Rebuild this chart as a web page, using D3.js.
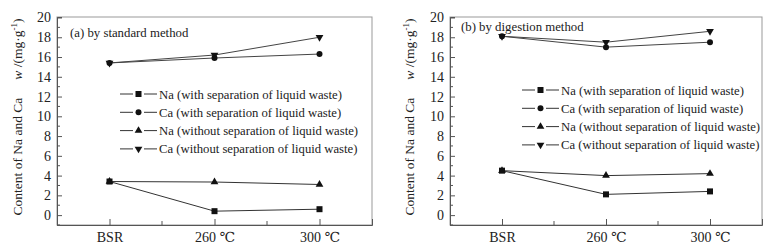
<!DOCTYPE html>
<html>
<head>
<meta charset="utf-8">
<script src="https://cdn.jsdelivr.net/npm/d3@7"></script>
<style>
  body { margin: 0; background: #fff; }
  svg, svg text { font-family: "Liberation Serif", "Times New Roman", "DejaVu Serif", serif !important; }
</style>
</head>
<body>
<div id="chart"></div>
<script>
// Categories and tick labels
const categories = ["BSR", "260 ℃", "300 ℃"];
const yTicks = [0, 2, 4, 6, 8, 10, 12, 14, 16, 18, 20];

// Series names (legend order)
const seriesNames = [
  "Na (with separation of liquid waste)",
  "Ca (with separation of liquid waste)",
  "Na (without separation of liquid waste)",
  "Ca (without separation of liquid waste)"
];
const seriesSymbols = ["square", "circle", "up", "down"];

// (a) by standard method
const standardNaWith = [3.4, 0.4, 0.6];
const standardCaWith = [15.4, 15.9, 16.3];
const standardNaWithout = [3.4, 3.35, 3.1];
const standardCaWithout = [15.4, 16.2, 18.0];

// (b) by digestion method
const digestionNaWith = [4.5, 2.1, 2.4];
const digestionCaWith = [18.1, 17.0, 17.5];
const digestionNaWithout = [4.5, 4.0, 4.2];
const digestionCaWithout = [18.1, 17.5, 18.6];

const width = 778, height = 250;
const fontFamily = '"Liberation Serif", "Times New Roman", serif';

const svg = d3.select("#chart").append("svg")
  .attr("width", width)
  .attr("height", height)
  .attr("font-family", fontFamily);

function drawMarker(g, type, x, y) {
  if (type === "square") {
    g.append("rect").attr("x", x - 3).attr("y", y - 3).attr("width", 6).attr("height", 6).attr("fill", "#111");
  } else if (type === "circle") {
    g.append("circle").attr("cx", x).attr("cy", y).attr("r", 3).attr("fill", "#111");
  } else {
    const sym = d3.symbol().type(d3.symbolTriangle).size(26);
    g.append("path").attr("d", sym())
      .attr("transform", `translate(${x},${y}) rotate(${type === "down" ? 180 : 0})`)
      .attr("fill", "#111");
  }
}

function drawPanel(opts) {
  const { left, right, top, bottom, title, titleX, titleY, series, legendX, legendY, labelX } = opts;
  const g = svg.append("g");

  const x = d3.scaleLinear().domain([-0.5, 2.5]).range([left, right]);
  const y = d3.scaleLinear().domain([-1, 20.05]).range([bottom, top]);

  // frame
  g.append("rect")
    .attr("x", left).attr("y", top)
    .attr("width", right - left).attr("height", bottom - top)
    .attr("fill", "none").attr("stroke", "#999").attr("stroke-width", 1);

  // y axis (ticks inward)
  const yAxis = d3.axisLeft(y).tickValues(yTicks).tickSize(-5).tickPadding(6);
  const ya = g.append("g").attr("transform", `translate(${left},0)`).call(yAxis)
    .attr("font-family", fontFamily);
  ya.select(".domain").attr("stroke", "#555");
  ya.selectAll(".tick line").attr("stroke", "#555");
  ya.selectAll("text").style("font-size", "14px").attr("fill", "#222");
  // minor y ticks
  g.selectAll(".ymin").data(d3.range(-1, 20, 2)).enter().append("line")
    .attr("x1", left).attr("x2", left + 3)
    .attr("y1", d => y(d)).attr("y2", d => y(d))
    .attr("stroke", "#555");

  // x axis
  const xAxis = d3.axisBottom(x).tickValues([0, 1, 2]).tickFormat(i => categories[i]).tickSize(-6).tickPadding(7);
  const xa = g.append("g").attr("transform", `translate(0,${bottom})`).call(xAxis)
    .attr("font-family", fontFamily);
  xa.select(".domain").attr("stroke", "#555");
  xa.selectAll(".tick line").attr("stroke", "#555");
  xa.selectAll("text").style("font-size", "14px").attr("fill", "#222");
  g.selectAll(".xmin").data([0.5, 1.5]).enter().append("line")
    .attr("x1", d => x(d)).attr("x2", d => x(d))
    .attr("y1", bottom).attr("y2", bottom - 4)
    .attr("stroke", "#555");

  // y label
  const lab = g.append("text")
    .attr("transform", `translate(${labelX},${(top + bottom) / 2 - 4}) rotate(-90)`)
    .attr("text-anchor", "middle")
    .attr("fill", "#222")
    .style("font-size", "13.5px");
  lab.append("tspan").text("Content of Na and Ca");
  lab.append("tspan").attr("dx", 18).style("font-style", "italic").text("w");
  lab.append("tspan").text(" /(mg·g");
  lab.append("tspan").attr("dy", -5).style("font-size", "9px").text("-1");
  lab.append("tspan").attr("dy", 5).text(")");

  // title
  g.append("text").attr("x", titleX).attr("y", titleY)
    .attr("fill", "#222")
    .style("font-size", "12.8px").text(title);

  // lines
  const line = d3.line().x((d, i) => x(i)).y(d => y(d));
  series.forEach((vals, k) => {
    g.append("path").datum(vals)
      .attr("d", line)
      .attr("fill", "none")
      .attr("stroke", k % 2 === 0 ? "#333" : "#444")
      .attr("stroke-width", 1);
  });
  series.forEach((vals, k) => {
    vals.forEach((v, i) => drawMarker(g, seriesSymbols[k], x(i), y(v)));
  });

  // legend
  seriesNames.forEach((name, k) => {
    const ly = legendY + k * 18.3;
    g.append("line").attr("x1", legendX).attr("x2", legendX + 37)
      .attr("y1", ly).attr("y2", ly).attr("stroke", "#333");
    g.append("rect").attr("x", legendX + 13).attr("y", ly - 5).attr("width", 11).attr("height", 10).attr("fill", "#fff");
    drawMarker(g, seriesSymbols[k], legendX + 18.5, ly);
    g.append("text").attr("x", legendX + 39).attr("y", ly + 4.5)
      .attr("fill", "#222")
      .style("font-size", "12.7px").text(name);
  });
}

drawPanel({
  left: 57, right: 372, top: 17, bottom: 225,
  title: "(a) by standard method", titleX: 70, titleY: 37,
  series: [standardNaWith, standardCaWith, standardNaWithout, standardCaWithout],
  legendX: 120, legendY: 94, labelX: 22
});

drawPanel({
  left: 450, right: 762, top: 17, bottom: 225,
  title: "(b)  by digestion method", titleX: 461, titleY: 31,
  series: [digestionNaWith, digestionCaWith, digestionNaWithout, digestionCaWithout],
  legendX: 522, legendY: 90, labelX: 414
});
</script>
</body>
</html>
